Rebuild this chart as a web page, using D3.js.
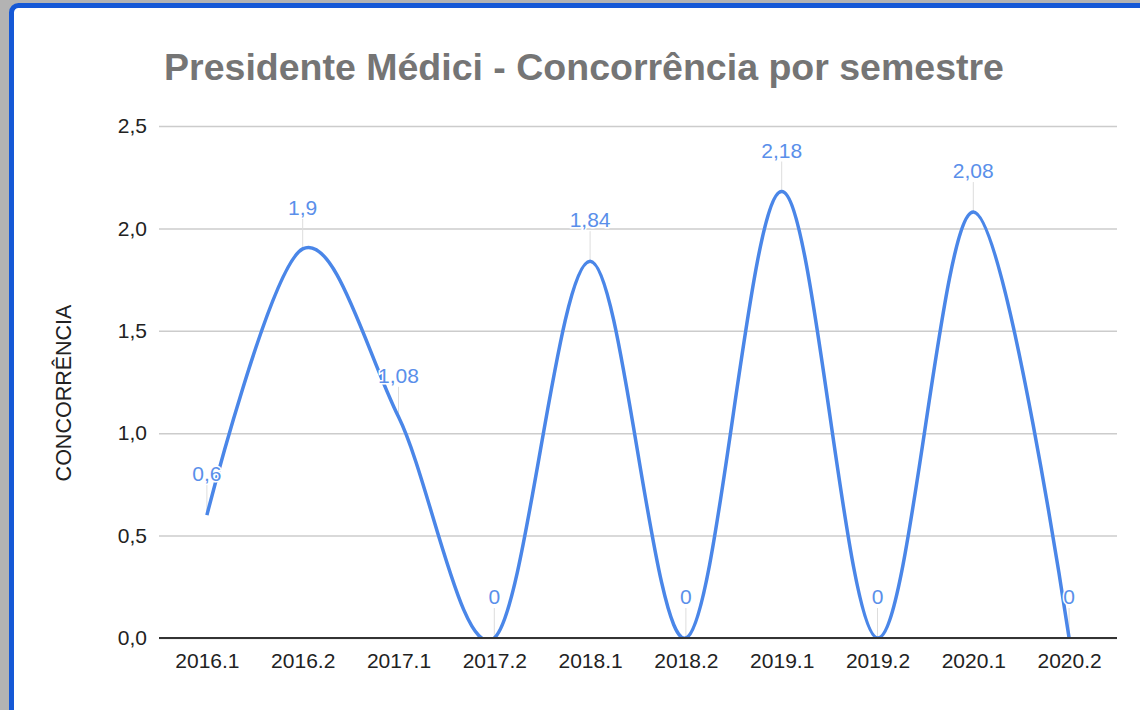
<!DOCTYPE html>
<html>
<head>
<meta charset="utf-8">
<script src="https://cdn.jsdelivr.net/npm/d3@7"></script>
<style>
  body { margin: 0; background: #b3b3b3; }
  svg { display: block; font-family: "Liberation Sans", Arial, sans-serif; }
</style>
</head>
<body>
<div id="chart"></div>
<script>
var semesters = ["2016.1", "2016.2", "2017.1", "2017.2", "2018.1", "2018.2", "2019.1", "2019.2", "2020.1", "2020.2"]
var concorrencia = [0.6, 1.9, 1.08, 0, 1.84, 0, 2.18, 0, 2.08, 0]
var yTicks = [0, 0.5, 1, 1.5, 2, 2.5]

var width = 1140, height = 710
var margin = { top: 126, right: 23, bottom: 72, left: 159 }

var svg = d3.select("#chart")
  .append("svg")
  .attr("width", width)
  .attr("height", height)

// frame of the screenshot
svg.append("rect")
  .attr("x", 11.5)
  .attr("y", 5.5)
  .attr("width", 1300)
  .attr("height", 900)
  .attr("rx", 7)
  .attr("fill", "white")
  .attr("stroke", "#1558d6")
  .attr("stroke-width", 5)

var fmt = d => d3.format(".1f")(d).replace(".", ",")
var fmtLabel = d => String(d).replace(".", ",")

// X scale
var xScale = d3.scalePoint()
  .domain(semesters)
  .range([margin.left, width - margin.right])
  .padding(0.5)

// Y scale
var yScale = d3.scaleLinear()
  .domain([0, 2.5])
  .range([height - margin.bottom, margin.top])

// Y grid
svg.append("g")
  .attr("class", "grid")
  .attr("transform", `translate(${margin.left},0)`)
  .call(d3.axisLeft(yScale)
    .tickValues(yTicks)
    .tickSize(-(width - margin.left - margin.right))
    .tickFormat(""))
  .call(g => g.select(".domain").remove())
  .selectAll("line")
  .style("stroke", "#cccccc")
  .style("stroke-width", 1.5)

// Y axis labels
svg.append("g")
  .attr("class", "y-axis")
  .attr("transform", `translate(${margin.left},0)`)
  .call(d3.axisLeft(yScale).tickValues(yTicks).tickSize(0).tickPadding(12).tickFormat(fmt))
  .call(g => g.select(".domain").remove())
  .selectAll("text")
  .style("font-size", "21px")
  .style("fill", "#222")
  .style("font-family", "Liberation Sans, Arial, sans-serif")

// X axis
svg.append("g")
  .attr("class", "x-axis")
  .attr("transform", `translate(0,${height - margin.bottom})`)
  .call(d3.axisBottom(xScale).tickSize(0).tickPadding(15))
  .call(g => g.select(".domain").remove())
  .selectAll("text")
  .style("font-size", "21px")
  .style("fill", "#222")
  .style("font-family", "Liberation Sans, Arial, sans-serif")

// clip so the curve never dips below zero
svg.append("clipPath")
  .attr("id", "plot-clip")
  .append("rect")
  .attr("x", margin.left)
  .attr("y", margin.top - 40)
  .attr("width", width - margin.left - margin.right)
  .attr("height", height - margin.bottom - margin.top + 40)

var line = d3.line()
  .x((d, i) => xScale(semesters[i]))
  .y(d => yScale(d))
  .curve(d3.curveCatmullRom.alpha(0))

// leader lines for the labels
svg.append("g")
  .attr("class", "leaders")
  .selectAll("line")
  .data(concorrencia)
  .enter()
  .append("line")
  .attr("x1", (d, i) => xScale(semesters[i]))
  .attr("x2", (d, i) => xScale(semesters[i]))
  .attr("y1", d => yScale(d))
  .attr("y2", d => yScale(d) - 30)
  .style("stroke", "#dddddd")
  .style("stroke-width", 1)

svg.append("path")
  .datum(concorrencia)
  .attr("class", "line")
  .attr("clip-path", "url(#plot-clip)")
  .attr("d", line)
  .attr("fill", "none")
  .style("stroke", "#4a86e8")
  .style("stroke-width", 3.5)

// axis baseline
svg.append("line")
  .attr("x1", margin.left)
  .attr("x2", width - margin.right)
  .attr("y1", yScale(0))
  .attr("y2", yScale(0))
  .style("stroke", "#333")
  .style("stroke-width", 2)

// data labels
svg.append("g")
  .attr("class", "labels")
  .selectAll("text")
  .data(concorrencia)
  .enter()
  .append("text")
  .attr("x", (d, i) => xScale(semesters[i]))
  .attr("y", d => yScale(d) - 34)
  .attr("text-anchor", "middle")
  .style("font-size", "21px")
  .style("fill", "#5a8fea")
  .style("stroke", "white")
  .style("stroke-width", 3)
  .style("paint-order", "stroke")
  .text(d => fmtLabel(d))

// title
svg.append("text")
  .attr("x", 584)
  .attr("y", 80)
  .attr("text-anchor", "middle")
  .style("font-size", "37.5px")
  .style("font-weight", "bold")
  .style("fill", "#757575")
  .text("Presidente Médici - Concorrência por semestre")

// y axis title
svg.append("text")
  .attr("transform", "translate(71,393) rotate(-90)")
  .attr("text-anchor", "middle")
  .style("font-size", "21.5px")
  .style("fill", "#222")
  .text("CONCORRÊNCIA")
</script>
</body>
</html>
